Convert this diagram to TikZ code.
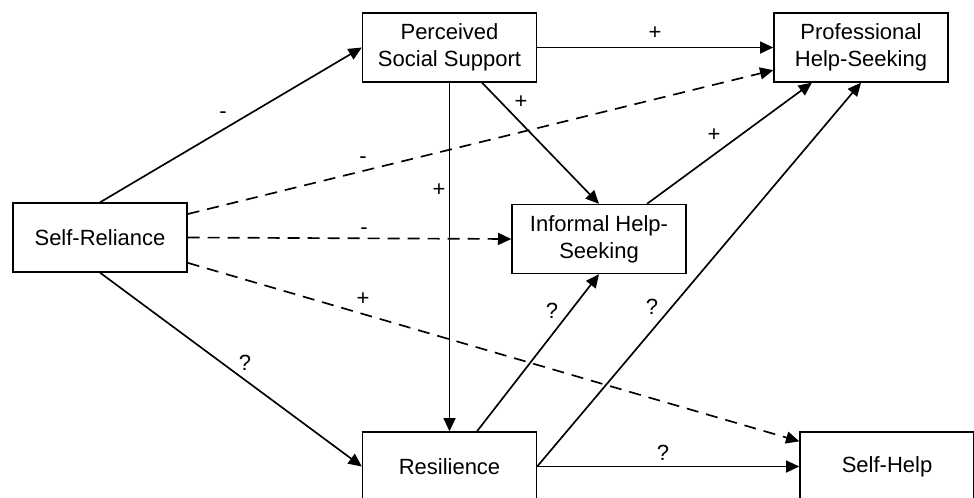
\documentclass[tikz,border=0pt]{standalone}
\usepackage{fontspec}
\setmainfont{Liberation Sans}
\usetikzlibrary{ arrows.meta, % For the filled arrow heads
                 positioning, % For easy node-relative placements
               }

\begin{document}
\begin{tikzpicture}[x=0.75pt, y=-0.75pt,
    box/.style={draw, line width=1pt, minimum width=130.5pt, minimum height=51.75pt,
                inner sep=0pt, align=center, font=\fontsize{16.5}{20}\selectfont},
    lbl/.style={anchor=base, inner sep=0pt, font=\fontsize{16.5}{20}\selectfont},
    link/.style={line width=1.25pt, -{Triangle[length=10pt, width=9pt]}},
    dlink/.style={link, dash pattern=on 9pt off 6pt}]
    \useasboundingbox (0,0) rectangle (974,497);
    \clip (0,0) rectangle (974,497);
    \node[box] (sr)  at (100,237.5) {Self-Reliance};
    \node[box] (pss) at (449.5,47.5) {Perceived\\Social Support};
    \node[box] (phs) at (861,47.5) {Professional\\Help-Seeking};
    \node[box] (ihs) at (599,239) {Informal Help-\\Seeking};
    \node[box] (res) at (449.5,466.5) {Resilience};
    \node[box] (sh)  at (887,466.5) {Self-Help};
    \draw[link] (sr.north) -- (pss.west);
    \draw[dlink] ([yshift=17.6pt]sr.east) -- ([yshift=-17pt]phs.west);
    \draw[dlink] (sr.east) -- (ihs.west);
    \draw[dlink] ([yshift=-19pt]sr.east) -- ([yshift=-7.5pt]sh.north west);
    \draw[link] (sr.south) -- (res.west);
    \draw[link] (pss.east) -- (phs.west);
    \draw[link] ([xshift=24.4pt]pss.south) -- (ihs.north);
    \draw[link] (pss.south) -- (res.north);
    \draw[link] ([xshift=36pt]ihs.north) -- ([xshift=-36.8pt]phs.south);
    \draw[link] ([xshift=20.6pt]res.north) -- (ihs.south);
    \draw[link] (res.east) -- (phs.south);
    \draw[link] (res.east) -- (sh.west);
    \node[lbl] (l-sr-pss)  at (223,118) {-};
    \node[lbl] (l-sr-phs)  at (363,163) {-};
    \node[lbl] (l-sr-ihs)  at (364,234) {-};
    \node[lbl] (l-sr-sh)   at (363,305) {+};
    \node[lbl] (l-sr-res)  at (245,370) {?};
    \node[lbl] (l-pss-phs) at (655,39) {+};
    \node[lbl] (l-pss-ihs) at (521,108) {+};
    \node[lbl] (l-pss-res) at (439,196) {+};
    \node[lbl] (l-ihs-phs) at (714,141) {+};
    \node[lbl] (l-res-ihs) at (552,318) {?};
    \node[lbl] (l-res-phs) at (652,314) {?};
    \node[lbl] (l-res-sh)  at (663,460) {?};
  \end{tikzpicture}
\end{document}
